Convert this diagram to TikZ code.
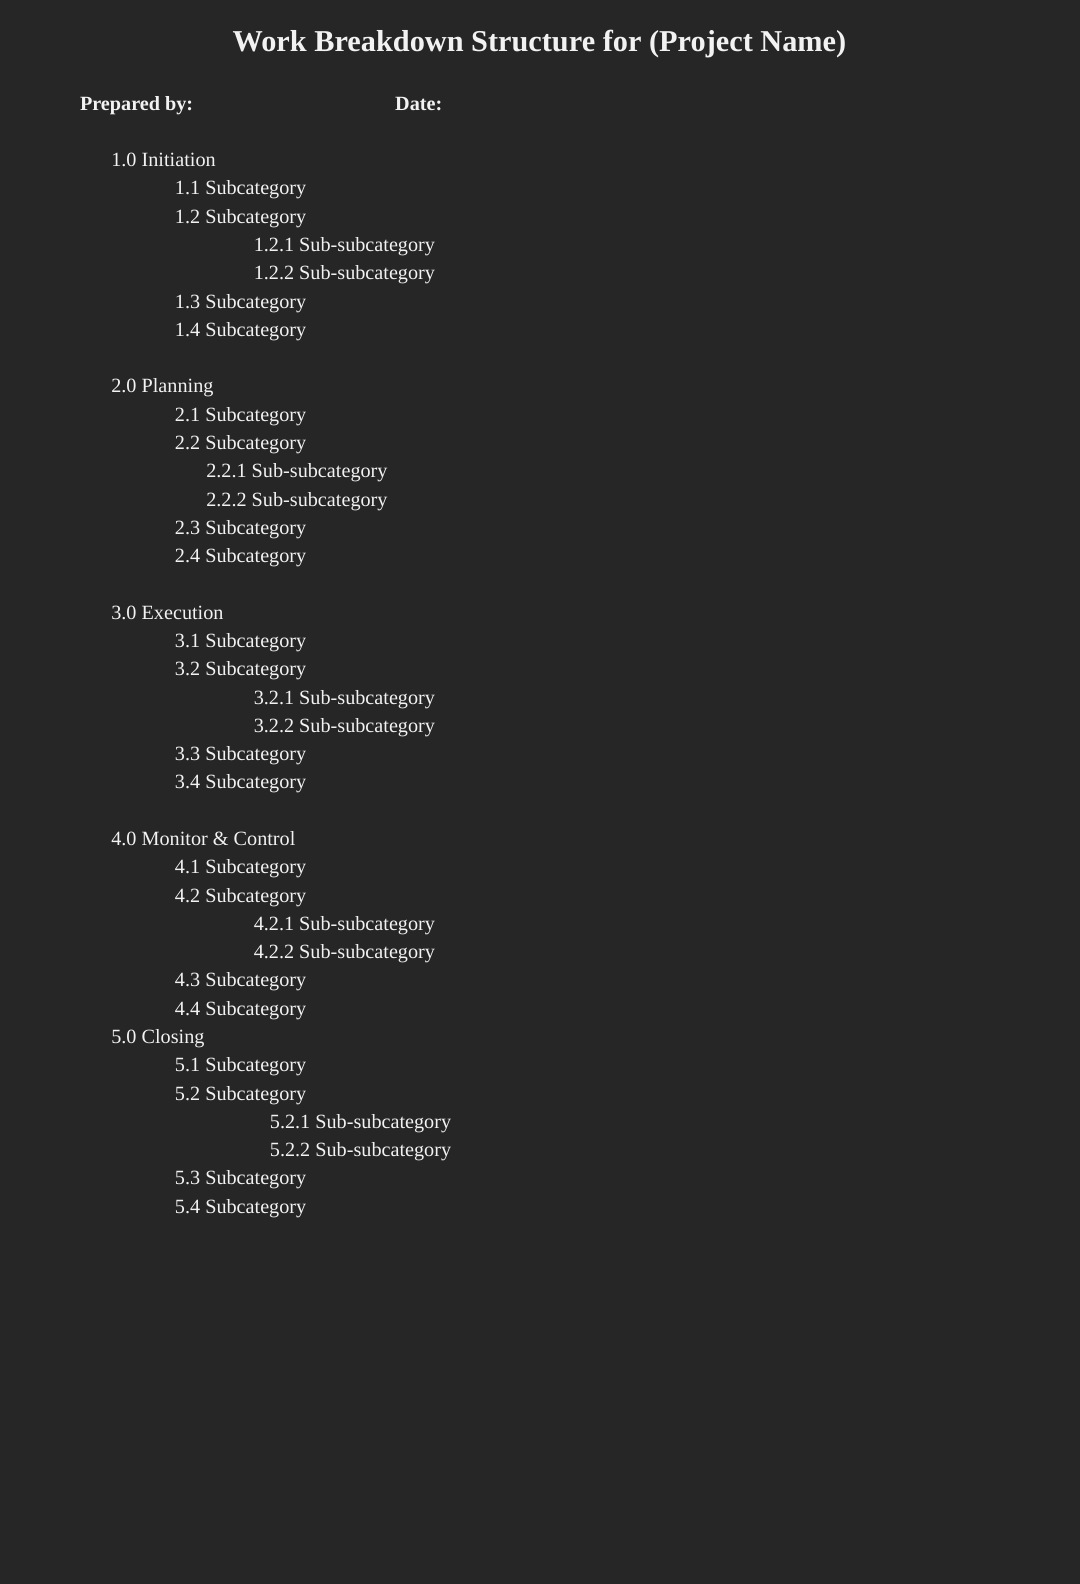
\documentclass[tikz,border=0pt]{standalone}
\usepackage{fontspec}
\setmainfont{Liberation Serif}
\definecolor{bg}{HTML}{262626}
\definecolor{fg}{HTML}{F2F2F2}
\tikzset{item/.style={anchor=base west,inner sep=0pt,text=fg,font=\fontsize{20}{24}\selectfont}}
\begin{document}
\begin{tikzpicture}[x=1pt,y=-1pt]
\fill[bg] (0,0) rectangle (1069,1568);
\useasboundingbox (0,0) rectangle (1069,1568);
\node[anchor=base,inner sep=0pt,text=fg,font=\fontsize{30}{34}\selectfont\bfseries] (title) at (534,51) {Work Breakdown Structure for (Project Name)};
\node[item,font=\fontsize{20}{24}\selectfont\bfseries] (prep) at (79,109) {Prepared by:};
\node[item,font=\fontsize{20}{24}\selectfont\bfseries] (date) at (391,109) {Date:};
\foreach \x/\y/\t [count=\i] in {
110/159/1.0 Initiation,173/187/1.1 Subcategory,173/215/1.2 Subcategory,251/243/1.2.1 Sub-subcategory,251/271/1.2.2 Sub-subcategory,173/299/1.3 Subcategory,173/327/1.4 Subcategory,
110/383/2.0 Planning,173/411/2.1 Subcategory,173/439/2.2 Subcategory,204/467/2.2.1 Sub-subcategory,204/495/2.2.2 Sub-subcategory,173/523/2.3 Subcategory,173/551/2.4 Subcategory,
110/607/3.0 Execution,173/635/3.1 Subcategory,173/663/3.2 Subcategory,251/691/3.2.1 Sub-subcategory,251/719/3.2.2 Sub-subcategory,173/747/3.3 Subcategory,173/775/3.4 Subcategory,
110/831/4.0 Monitor \& Control,173/859/4.1 Subcategory,173/887/4.2 Subcategory,251/915/4.2.1 Sub-subcategory,251/943/4.2.2 Sub-subcategory,173/971/4.3 Subcategory,173/999/4.4 Subcategory,
110/1027/5.0 Closing,173/1055/5.1 Subcategory,173/1083/5.2 Subcategory,267/1111/5.2.1 Sub-subcategory,267/1139/5.2.2 Sub-subcategory,173/1167/5.3 Subcategory,173/1195/5.4 Subcategory}
{\node[item] (n\i) at (\x,\y+6) {\t};}
\end{tikzpicture}
\end{document}
